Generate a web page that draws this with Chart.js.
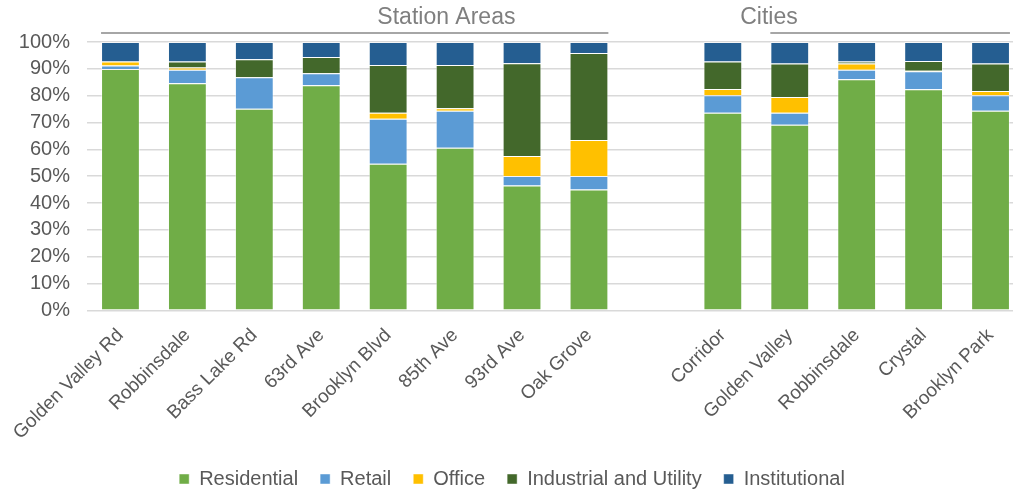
<!DOCTYPE html>
<html>
<head>
<meta charset="utf-8">
<script src="https://cdn.jsdelivr.net/npm/chart.js@4/dist/chart.umd.min.js"></script>
<style>
  html, body { margin: 0; padding: 0; background: #fff; overflow: hidden; }
  #wrap { width: 1024px; height: 492px; }
</style>
</head>
<body>
<div id="wrap"><canvas id="chart" width="1024" height="492"></canvas></div>
<script>
const labels = ["Golden Valley Rd", "Robbinsdale", "Bass Lake Rd", "63rd Ave", "Brooklyn Blvd", "85th Ave", "93rd Ave", "Oak Grove", "",
  "Corridor", "Golden Valley", "Robbinsdale", "Crystal", "Brooklyn Park"];

const residential   = [89.9, 84.6, 75.1, 83.9, 54.6, 60.6, 46.5, 45.0, null, 73.6, 69.2, 86.1, 82.4, 74.4];
const retail        = [1.3, 5.1, 11.8, 4.5, 16.8, 13.8, 3.6, 5.1, null, 6.6, 4.4, 3.6, 6.7, 5.8];
const office        = [1.5, 0.8, 0, 0, 2.2, 0.9, 7.4, 13.4, null, 2.3, 5.9, 2.3, 0.2, 1.5];
const industrial    = [0, 2.2, 6.7, 6.0, 17.8, 16.1, 34.6, 32.4, null, 10.2, 12.5, 0.7, 3.6, 10.3];
const institutional = [7.3, 7.3, 6.4, 5.6, 8.6, 8.6, 7.9, 4.1, null, 7.3, 8.0, 7.3, 7.1, 8.0];

const groups = [
  { title: "Station Areas", from: 0, to: 7, textAt: 4.87 },
  { title: "Cities", from: 10, to: 13, textAt: 9.69 }
];

const FONT = "'Liberation Sans', Arial, sans-serif";
const TEXT = "#595959";

// group headers above the bars
const groupHeaders = {
  id: "groupHeaders",
  afterLayout(chart) {
    // push the legend row down a bit, keeps the wide item spacing
    chart.legend.top += 7;
    chart.legend.bottom += 7;
  },
  afterDraw(chart) {
    const { ctx, scales: { x } } = chart;
    const step = x.getPixelForValue(1) - x.getPixelForValue(0);
    const barHalf = step * 0.58 / 2;
    ctx.save();
    groups.forEach(g => {
      ctx.strokeStyle = "#a6a6a6";
      ctx.lineWidth = 2;
      ctx.beginPath();
      ctx.moveTo(x.getPixelForValue(g.from) - barHalf, 33);
      ctx.lineTo(x.getPixelForValue(g.to) + barHalf, 33);
      ctx.stroke();
      ctx.fillStyle = "#7f7f7f";
      ctx.font = "23px " + FONT;
      ctx.textAlign = "center";
      ctx.textBaseline = "middle";
      ctx.fillText(g.title, x.getPixelForValue(g.textAt), 18);
    });
    ctx.restore();
  }
};

const mk = (label, data, color) => ({
  label, data, backgroundColor: color,
  borderColor: "rgba(255,255,255,0.45)", borderWidth: 1,
  barPercentage: 0.58, categoryPercentage: 1
});

new Chart(document.getElementById("chart"), {
  type: "bar",
  data: {
    labels,
    datasets: [
      mk("Residential", residential, "#70ad47"),
      mk("Retail", retail, "#5b9bd5"),
      mk("Office", office, "#ffc000"),
      mk("Industrial and Utility", industrial, "#43682b"),
      mk("Institutional", institutional, "#255e91")
    ]
  },
  options: {
    responsive: false,
    animation: false,
    layout: { padding: { top: 42, left: 0, right: 0, bottom: 0 } },
    plugins: {
      legend: {
        position: "bottom",
        labels: {
          boxWidth: 10, boxHeight: 10, padding: 22,
          color: TEXT, font: { family: FONT, size: 20 }
        }
      },
      tooltip: { enabled: false }
    },
    scales: {
      x: {
        stacked: true,
        afterFit: s => { s.height = s.height - 10; },
        grid: { display: false },
        border: { display: false },
        ticks: {
          color: TEXT, font: { family: FONT, size: 19 },
          maxRotation: 45, minRotation: 45, autoSkip: false, padding: 6
        }
      },
      y: {
        stacked: true,
        min: 0, max: 100,
        afterFit: s => { s.width = 87; },
        grid: { color: "#d9d9d9", lineWidth: 1.5, drawTicks: false },
        border: { display: false },
        ticks: {
          stepSize: 10, padding: 17, autoSkip: false,
          color: TEXT, font: { family: FONT, size: 20 },
          callback: v => v + "%"
        }
      }
    }
  },
  plugins: [groupHeaders]
});
</script>
</body>
</html>
